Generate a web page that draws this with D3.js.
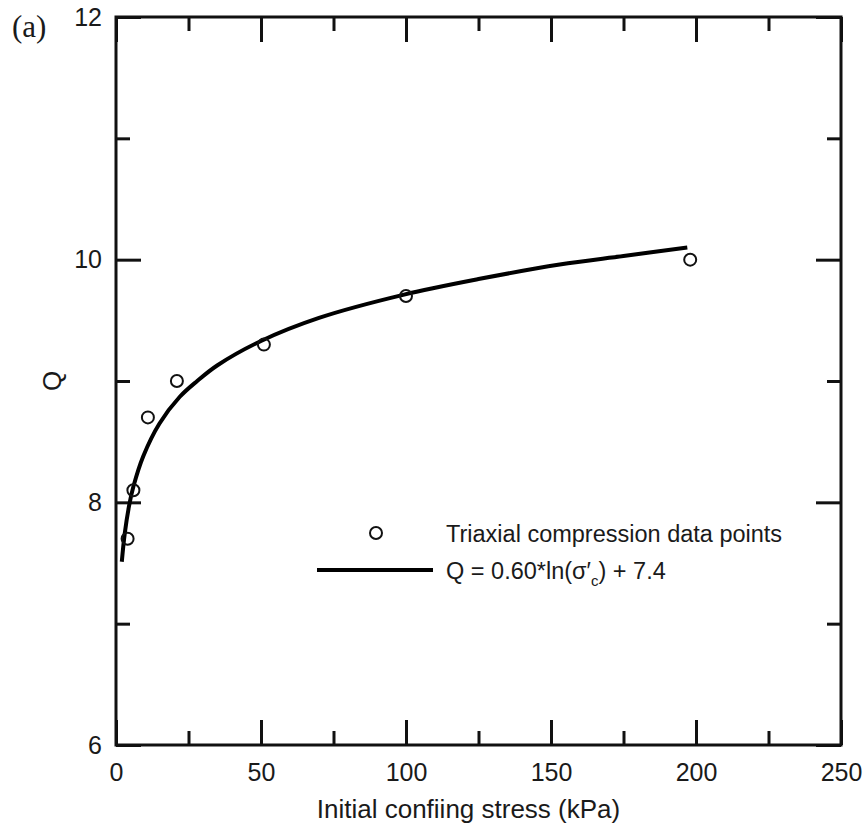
<!DOCTYPE html>
<html>
<head>
<meta charset="utf-8">
<script src="https://cdn.jsdelivr.net/npm/d3@7"></script>
<style>
  body { margin: 0; background: #fff; }
  svg text { font-family: "Liberation Sans", Arial, sans-serif; fill: #1a1a1a; }
</style>
</head>
<body>
<div id="chart"></div>
<script>
const WIDTH = 867;
const HEIGHT = 834;
const MARGIN = { top: 17, right: 26, bottom: 89, left: 116 };

// tick layout
const xMajorTicks = [0, 50, 100, 150, 200, 250];
const xMinorTicks = [25, 75, 125, 175, 225];
const yMajorTicks = [6, 8, 10, 12];
const yMinorTicks = [7, 9, 11];

// triaxial compression data points
const stress = [4, 6, 11, 21, 51, 100, 198];
const qValues = [7.7, 8.1, 8.7, 9.0, 9.3, 9.7, 10.0];

// fitted curve
const fitStress = [2, 3, 4.5, 6, 9.4, 15, 22, 28, 35, 50, 70, 99, 125, 153, 175, 197];
const fitQ = [7.51, 7.74, 7.97, 8.13, 8.38, 8.65, 8.87, 9.0, 9.13, 9.33, 9.52, 9.71, 9.84, 9.96, 10.03, 10.10];

const innerW = WIDTH - MARGIN.left - MARGIN.right;
const innerH = HEIGHT - MARGIN.top - MARGIN.bottom;

const svg = d3.select("#chart")
    .append("svg")
    .attr("width", WIDTH)
    .attr("height", HEIGHT);

const g = svg.append("g")
    .attr("transform", `translate(${MARGIN.left},${MARGIN.top})`);

const x = d3.scaleLinear().domain([0, 250]).range([0, innerW]);
const y = d3.scaleLinear().domain([6, 12]).range([innerH, 0]);

const MAJOR = 25;
const MINOR = 14;
const fmt = d3.format("d");

function styleAxis(sel) {
    sel.select(".domain").remove();
    sel.selectAll(".tick line").attr("stroke", "#111").attr("stroke-width", 3);
    sel.selectAll(".tick text")
        .style("font-size", "25px")
        .attr("fill", "#1a1a1a");
}

// bottom axis, ticks pointing inward
g.append("g")
    .attr("transform", `translate(0,${innerH})`)
    .call(d3.axisBottom(x).tickValues(xMajorTicks).tickSize(-MAJOR).tickPadding(18).tickFormat(fmt))
    .call(styleAxis);
g.append("g")
    .attr("transform", `translate(0,${innerH})`)
    .call(d3.axisBottom(x).tickValues(xMinorTicks).tickSize(-MINOR).tickFormat(""))
    .call(styleAxis);

// top axis mirror
g.append("g")
    .call(d3.axisTop(x).tickValues(xMajorTicks).tickSize(-MAJOR).tickFormat(""))
    .call(styleAxis);
g.append("g")
    .call(d3.axisTop(x).tickValues(xMinorTicks).tickSize(-MINOR).tickFormat(""))
    .call(styleAxis);

// left axis
g.append("g")
    .call(d3.axisLeft(y).tickValues(yMajorTicks).tickSize(-MAJOR).tickPadding(14).tickFormat(fmt))
    .call(styleAxis);
g.append("g")
    .call(d3.axisLeft(y).tickValues(yMinorTicks).tickSize(-MINOR).tickFormat(""))
    .call(styleAxis);

// right axis mirror
g.append("g")
    .attr("transform", `translate(${innerW},0)`)
    .call(d3.axisRight(y).tickValues(yMajorTicks).tickSize(-MAJOR).tickFormat(""))
    .call(styleAxis);
g.append("g")
    .attr("transform", `translate(${innerW},0)`)
    .call(d3.axisRight(y).tickValues(yMinorTicks).tickSize(-MINOR).tickFormat(""))
    .call(styleAxis);

// frame
g.append("rect")
    .attr("width", innerW)
    .attr("height", innerH)
    .attr("fill", "none")
    .attr("stroke", "#111")
    .attr("stroke-width", 3);

// fitted curve
const line = d3.line()
    .x((d, i) => x(fitStress[i]))
    .y((d, i) => y(fitQ[i]))
    .curve(d3.curveCatmullRom);

g.append("path")
    .datum(fitQ)
    .attr("d", line)
    .attr("fill", "none")
    .attr("stroke", "#000")
    .attr("stroke-width", 4);

// data points
g.selectAll("circle.pt")
    .data(stress)
    .enter()
    .append("circle")
    .attr("class", "pt")
    .attr("cx", d => x(d))
    .attr("cy", (d, i) => y(qValues[i]))
    .attr("r", 6)
    .attr("fill", "none")
    .attr("stroke", "#111")
    .attr("stroke-width", 2);

// legend
const legend = svg.append("g");
legend.append("circle")
    .attr("cx", 376).attr("cy", 533).attr("r", 6)
    .attr("fill", "none").attr("stroke", "#111").attr("stroke-width", 2);
legend.append("text")
    .attr("x", 446).attr("y", 542)
    .style("font-size", "23.5px")
    .text("Triaxial compression data points");
legend.append("line")
    .attr("x1", 317).attr("x2", 433).attr("y1", 570).attr("y2", 570)
    .attr("stroke", "#000").attr("stroke-width", 4);
const eq = legend.append("text")
    .attr("x", 446).attr("y", 579)
    .style("font-size", "23.5px");
eq.append("tspan").text("Q = 0.60*ln(σ′");
eq.append("tspan").attr("dy", 7).style("font-size", "15px").text("c");
eq.append("tspan").attr("dy", -7).text(") + 7.4");

// axis titles
svg.append("text")
    .attr("x", MARGIN.left + innerW / 2 - 10)
    .attr("y", 818)
    .attr("text-anchor", "middle")
    .style("font-size", "26px")
    .text("Initial confiing stress (kPa)");

svg.append("text")
    .attr("transform", `translate(61,${MARGIN.top + innerH / 2}) rotate(-90)`)
    .attr("text-anchor", "middle")
    .style("font-size", "26px")
    .text("Q");

// panel label
svg.append("text")
    .attr("x", 12)
    .attr("y", 37)
    .style("font-family", "'Liberation Serif', 'Times New Roman', serif")
    .style("font-size", "31px")
    .text("(a)");
</script>
</body>
</html>
